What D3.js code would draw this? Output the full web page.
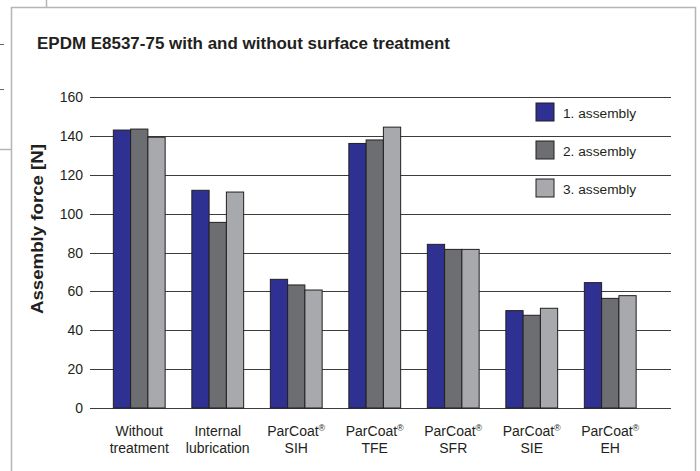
<!DOCTYPE html>
<html>
<head>
<meta charset="utf-8">
<script src="https://cdn.jsdelivr.net/npm/d3@7"></script>
<style>
  body { margin: 0; background: #fff; }
  text { font-family: "Liberation Sans", Arial, Helvetica, sans-serif; fill: #231f20; }
</style>
</head>
<body>
<div id="chart"></div>
<script>
const width = 700;
const height = 471;

// data
const categories = ["Without treatment", "Internal lubrication", "ParCoat SIH", "ParCoat TFE", "ParCoat SFR", "ParCoat SIE", "ParCoat EH"];
const labelLines = [["Without", "treatment"], ["Internal", "lubrication"], ["ParCoat®", "SIH"], ["ParCoat®", "TFE"], ["ParCoat®", "SFR"], ["ParCoat®", "SIE"], ["ParCoat®", "EH"]];
const seriesNames = ["1. assembly", "2. assembly", "3. assembly"];
const assembly1 = [143, 112, 66.2, 136.1, 84.2, 50.1, 64.5];
const assembly2 = [143.5, 95.5, 63.3, 137.9, 81.6, 47.7, 56.4];
const assembly3 = [139.3, 111.1, 60.7, 144.5, 81.6, 51.3, 57.8];
const yTicks = [0, 20, 40, 60, 80, 100, 120, 140, 160];

const series = [assembly1, assembly2, assembly3];
const colors = ["#2e3192", "#6d6e71", "#a7a9ac"];

const svg = d3
  .select("#chart")
  .append("svg")
  .attr("width", width)
  .attr("height", height);

// frame lines around the figure
const frame = "#b5b5b5";
svg.append("path")
  .attr("d", "M11.5,471 V7.5 H695.5 V471")
  .attr("fill", "none")
  .attr("stroke", frame)
  .attr("stroke-width", 1.5);
svg.append("line").attr("x1", 46.5).attr("x2", 46.5).attr("y1", 0).attr("y2", 7)
  .attr("stroke", frame).attr("stroke-width", 1.5);
svg.append("line").attr("x1", 0).attr("x2", 11).attr("y1", 149.5).attr("y2", 149.5)
  .attr("stroke", frame).attr("stroke-width", 1.5);
[44.5, 89.5].forEach((y) => {
  svg.append("line").attr("x1", 0).attr("x2", 4).attr("y1", y).attr("y2", y)
    .attr("stroke", "#666").attr("stroke-width", 1);
});

const x = d3.scaleBand().domain(categories).range([100, 649.5]).paddingInner(0.34).paddingOuter(0.17);
const x1 = d3.scaleBand().domain(d3.range(series.length)).range([0, x.bandwidth()]);
const y = d3.scaleLinear().domain([0, 160]).range([408, 97]);

// title
svg.append("text")
  .attr("x", 37)
  .attr("y", 49)
  .attr("textLength", 413)
  .attr("lengthAdjust", "spacingAndGlyphs")
  .style("font-size", "15.6px")
  .style("font-weight", "bold")
  .text("EPDM E8537-75 with and without surface treatment");

// y axis label
svg.append("text")
  .attr("transform", `translate(43, 229) rotate(-90)`)
  .attr("text-anchor", "middle")
  .attr("textLength", 170)
  .attr("lengthAdjust", "spacingAndGlyphs")
  .style("font-size", "16px")
  .style("font-weight", "bold")
  .text("Assembly force [N]");

// gridlines + tick labels
svg.selectAll(".grid")
  .data(yTicks)
  .enter()
  .append("line")
  .attr("x1", 90)
  .attr("x2", 671)
  .attr("y1", (d) => Math.round(y(d)) + 0.5)
  .attr("y2", (d) => Math.round(y(d)) + 0.5)
  .attr("stroke", "#3c3c3c")
  .attr("stroke-width", 1);

svg.selectAll(".ytick")
  .data(yTicks)
  .enter()
  .append("text")
  .attr("x", 83)
  .attr("y", (d) => y(d))
  .attr("dy", "0.36em")
  .attr("text-anchor", "end")
  .style("font-size", "14px")
  .text((d) => d);

// bars
const groups = svg.selectAll(".group")
  .data(categories)
  .enter()
  .append("g")
  .attr("transform", (d) => `translate(${x(d)},0)`);

groups.selectAll("rect")
  .data((d, i) => series.map((s, j) => ({ j, value: s[i] })))
  .enter()
  .append("rect")
  .attr("x", (d) => x1(d.j))
  .attr("y", (d) => y(d.value))
  .attr("width", x1.bandwidth())
  .attr("height", (d) => y(0) - y(d.value))
  .attr("fill", (d) => colors[d.j])
  .attr("stroke", "#231f20")
  .attr("stroke-width", 1);

// category labels
const labels = svg.selectAll(".xlabel")
  .data(categories)
  .enter()
  .append("text")
  .attr("text-anchor", "middle")
  .style("font-size", "14px");

labels.each(function (d, i) {
  const t = d3.select(this);
  const cx = x(d) + x.bandwidth() / 2;
  labelLines[i].forEach((line, k) => {
    const ts = t.append("tspan").attr("x", cx).attr("y", 436 + k * 16.5);
    if (line.endsWith("®")) {
      ts.append("tspan").text(line.slice(0, -1));
      ts.append("tspan").attr("dy", "-5").style("font-size", "9px").text("®");
    } else {
      ts.text(line);
    }
  });
});

// legend
const legend = svg.append("g").attr("transform", "translate(536, 103)");
seriesNames.forEach((name, i) => {
  legend.append("rect")
    .attr("x", 0)
    .attr("y", i * 38)
    .attr("width", 18)
    .attr("height", 18)
    .attr("fill", colors[i])
    .attr("stroke", "#231f20")
    .attr("stroke-width", 1);
  legend.append("text")
    .attr("x", 27)
    .attr("y", i * 38 + 14.5)
    .style("font-size", "13.7px")
    .text(name);
});
</script>
</body>
</html>
